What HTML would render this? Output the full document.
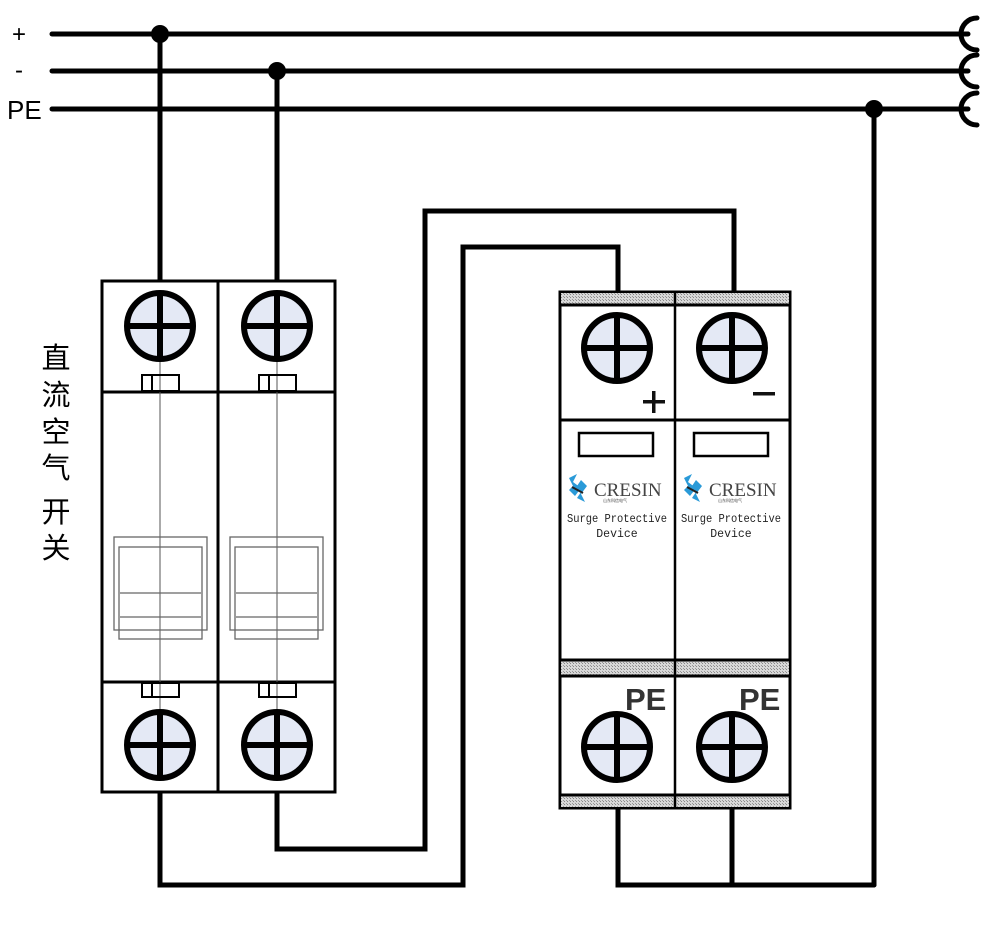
<!DOCTYPE html>
<html><head><meta charset="utf-8"><style>
html,body{margin:0;padding:0;background:#fff;}
svg{display:block;}
</style></head><body>
<svg width="982" height="927" viewBox="0 0 982 927" xmlns="http://www.w3.org/2000/svg">
<defs>
<pattern id="h" width="3" height="3" patternUnits="userSpaceOnUse">
<rect width="3" height="3" fill="#d8d8d8"/><rect width="1" height="1" fill="#888"/><rect x="2" y="2" width="1" height="1" fill="#999"/>
</pattern>
<g id="term">
<circle r="33" fill="#e4e9f5" stroke="#000" stroke-width="6"/>
<line x1="-33" y1="0" x2="33" y2="0" stroke="#000" stroke-width="6"/>
<line x1="0" y1="-33" x2="0" y2="33" stroke="#000" stroke-width="6"/>
</g>
<g id="logo">
<path d="M2,4 L10,0 L6,8 L14,14 L8,22 L2,16 L6,12 Z" fill="#2a9ad8"/>
<path d="M14,6 L20,12 L14,20 L18,28 L10,24 L14,18 L10,12 Z" fill="#2a9ad8"/>
<line x1="5" y1="13" x2="16" y2="19" stroke="#222" stroke-width="2"/>
</g>
</defs>
<g font-family="Liberation Sans, sans-serif">
<text x="12" y="42" font-size="24">+</text>
<text x="15" y="78" font-size="24">-</text>
<text x="7" y="119" font-size="26">PE</text>
</g>
<g stroke="#000" stroke-width="5" fill="none" stroke-linecap="round">
<line x1="52" y1="34" x2="968" y2="34"/>
<line x1="52" y1="71" x2="968" y2="71"/>
<line x1="52" y1="109" x2="968" y2="109"/>
<path d="M977,18 A16,16 0 0 0 977,50"/>
<path d="M977,55 A16,16 0 0 0 977,87"/>
<path d="M977,93 A16,16 0 0 0 977,125"/>
<line x1="160" y1="34" x2="160" y2="282"/>
<line x1="277" y1="71" x2="277" y2="282"/>
<line x1="874" y1="109" x2="874" y2="885"/>
<path d="M160,792 L160,885 L463,885 L463,247 L618,247 L618,292"/>
<path d="M277,792 L277,849 L425,849 L425,211 L734,211 L734,292"/>
<path d="M618,808 L618,885 L874,885"/>
<line x1="732" y1="808" x2="732" y2="885"/>
</g>
<circle cx="160" cy="34" r="9"/>
<circle cx="277" cy="71" r="9"/>
<circle cx="874" cy="109" r="9"/>
<g font-family="Liberation Sans, 'Noto Sans CJK SC', sans-serif" font-size="29" text-anchor="middle">
<text x="56" y="368">直</text>
<text x="56" y="405">流</text>
<text x="56" y="442">空</text>
<text x="56" y="478">气</text>
<text x="56" y="522">开</text>
<text x="56" y="558">关</text>
</g>
<g fill="none">
<rect x="102" y="281" width="233" height="511" stroke="#000" stroke-width="3" fill="#fff"/>
<line x1="218" y1="281" x2="218" y2="792" stroke="#000" stroke-width="3"/>
<line x1="102" y1="392" x2="335" y2="392" stroke="#000" stroke-width="3"/>
<line x1="102" y1="682" x2="335" y2="682" stroke="#000" stroke-width="3"/>
<line x1="160" y1="326" x2="160" y2="745" stroke="#555" stroke-width="1"/>
<line x1="277" y1="326" x2="277" y2="745" stroke="#555" stroke-width="1"/>
<g stroke="#000" stroke-width="2">
<rect x="142" y="375" width="37" height="16"/><line x1="152" y1="375" x2="152" y2="391"/>
<rect x="259" y="375" width="37" height="16"/><line x1="269" y1="375" x2="269" y2="391"/>
<rect x="142" y="683" width="37" height="14"/><line x1="152" y1="683" x2="152" y2="697"/>
<rect x="259" y="683" width="37" height="14"/><line x1="269" y1="683" x2="269" y2="697"/>
</g>
<g stroke="#666" stroke-width="1.3">
<rect x="114" y="537" width="93" height="93"/>
<rect x="119" y="547" width="83" height="92"/>
<line x1="120" y1="593" x2="201" y2="593"/><line x1="120" y1="617" x2="201" y2="617"/>
<rect x="230" y="537" width="93" height="93"/>
<rect x="235" y="547" width="83" height="92"/>
<line x1="236" y1="593" x2="317" y2="593"/><line x1="236" y1="617" x2="317" y2="617"/>
</g>
</g>
<use href="#term" x="160" y="326"/><use href="#term" x="277" y="326"/>
<use href="#term" x="160" y="745"/><use href="#term" x="277" y="745"/>
<rect x="560" y="292" width="230" height="516" fill="#fff" stroke="#000" stroke-width="3"/>
<rect x="561" y="293" width="228" height="12" fill="url(#h)"/>
<rect x="561" y="660" width="228" height="16" fill="url(#h)"/>
<rect x="561" y="795" width="228" height="12" fill="url(#h)"/>
<g stroke="#000" stroke-width="3">
<line x1="560" y1="305" x2="790" y2="305"/>
<line x1="560" y1="420" x2="790" y2="420"/>
<line x1="560" y1="660" x2="790" y2="660"/>
<line x1="560" y1="676" x2="790" y2="676"/>
<line x1="560" y1="795" x2="790" y2="795"/>
<line x1="675" y1="292" x2="675" y2="808" stroke-width="2.5"/>
</g>
<rect x="579" y="433" width="74" height="23" fill="none" stroke="#000" stroke-width="2.5"/>
<rect x="694" y="433" width="74" height="23" fill="none" stroke="#000" stroke-width="2.5"/>
<use href="#term" x="617" y="348"/><use href="#term" x="732" y="348"/>
<use href="#term" x="617" y="747"/><use href="#term" x="732" y="747"/>
<rect x="643" y="400" width="22" height="3.5" fill="#111"/><rect x="652" y="391" width="3.5" height="22" fill="#111"/>
<rect x="753" y="392" width="22" height="3.5" fill="#111"/>
<g font-family="Liberation Sans, sans-serif" font-weight="bold" font-size="31" fill="#333">
<text x="625" y="710">PE</text><text x="739" y="710">PE</text>
</g>
<use href="#logo" x="567" y="474"/><use href="#logo" x="682" y="474"/>
<g font-family="Liberation Serif, serif" font-size="19" fill="#444">
<text x="594" y="496">CRESIN</text><text x="709" y="496">CRESIN</text>
</g>
<g font-family="'Noto Sans CJK SC', sans-serif" font-size="4" fill="#444">
<text x="603" y="502">山东科信电气</text><text x="718" y="502">山东科信电气</text>
</g>
<g font-family="Liberation Mono, monospace" font-size="11.5" fill="#222">
<text x="567" y="522" textLength="100" lengthAdjust="spacingAndGlyphs">Surge Protective</text>
<text x="617" y="537" text-anchor="middle">Device</text>
<text x="681" y="522" textLength="100" lengthAdjust="spacingAndGlyphs">Surge Protective</text>
<text x="731" y="537" text-anchor="middle">Device</text>
</g>
</svg>
</body></html>
